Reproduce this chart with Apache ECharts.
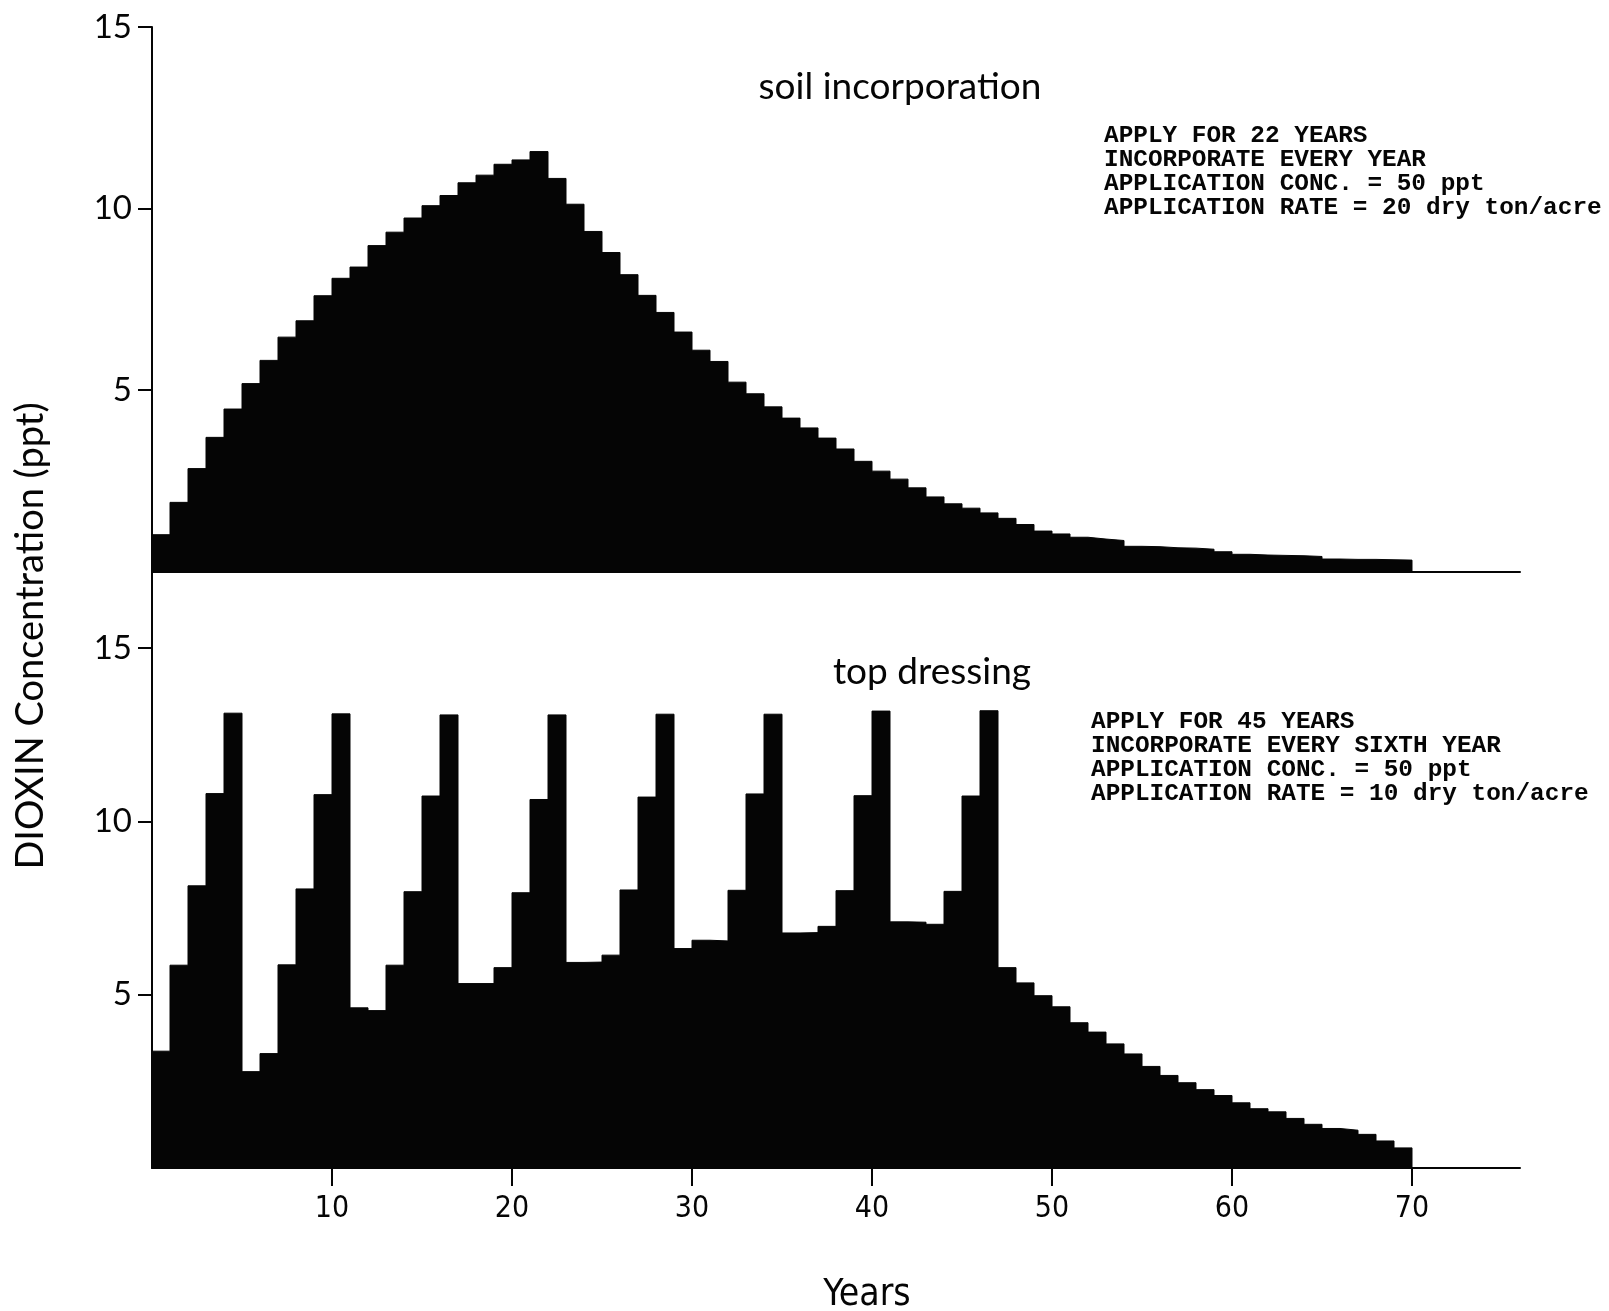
<!DOCTYPE html>
<html>
<head>
<meta charset="utf-8">
<title>Dioxin concentration in soil</title>
<script src="https://cdn.jsdelivr.net/npm/echarts@6/dist/echarts.min.js"></script>
<style>
  html, body { margin: 0; padding: 0; background: #ffffff; }
  #chart { width: 1609px; height: 1311px; }
</style>
</head>
<body>
<div id="chart"></div>
<script>
// Year axis ticks (bottom panel only) and concentration ticks (both panels)
const yearTicks = [10, 20, 30, 40, 50, 60, 70];
const concTicks = [5, 10, 15];

// Dioxin concentration (ppt) for each year 0..69, soil incorporation scenario
const soilIncorporation = [
  1.02, 1.91, 2.84, 3.70, 4.48, 5.18, 5.82, 6.46, 6.91, 7.60,
  8.08, 8.39, 8.98, 9.35, 9.74, 10.08, 10.36, 10.71, 10.92, 11.22,
  11.34, 11.57, 10.83, 10.12, 9.37, 8.79, 8.18, 7.61, 7.14, 6.60,
  6.10, 5.79, 5.22, 4.90, 4.54, 4.23, 3.96, 3.68, 3.38, 3.04,
  2.77, 2.55, 2.31, 2.06, 1.87, 1.75, 1.62, 1.47, 1.30, 1.12,
  1.04, 0.95, 0.90, 0.86, 0.70, 0.69, 0.66, 0.65, 0.62, 0.55,
  0.48, 0.46, 0.45, 0.44, 0.42, 0.35, 0.34, 0.34, 0.33, 0.32
];

// Dioxin concentration (ppt) for each year 0..69, top dressing scenario
const topDressing = [
  3.37, 5.85, 8.14, 10.80, 13.12, 2.78, 3.30, 5.86, 8.05, 10.77,
  13.10, 4.62, 4.54, 5.85, 7.97, 10.73, 13.07, 5.32, 5.32, 5.78,
  7.94, 10.63, 13.07, 5.93, 5.94, 6.14, 8.02, 10.70, 13.09, 6.33,
  6.57, 6.55, 8.01, 10.79, 13.09, 6.78, 6.79, 6.97, 8.00, 10.74,
  13.18, 7.10, 7.09, 7.03, 7.98, 10.73, 13.19, 5.78, 5.34, 4.97,
  4.65, 4.19, 3.92, 3.58, 3.29, 2.93, 2.67, 2.46, 2.26, 2.09,
  1.88, 1.71, 1.62, 1.43, 1.26, 1.14, 1.09, 0.97, 0.78, 0.58
];

const panelTitles = ['soil incorporation', 'top dressing'];
const notes = [
  ['APPLY FOR 22 YEARS', 'INCORPORATE EVERY YEAR', 'APPLICATION CONC. = 50 ppt', 'APPLICATION RATE = 20 dry ton/acre'],
  ['APPLY FOR 45 YEARS', 'INCORPORATE EVERY SIXTH YEAR', 'APPLICATION CONC. = 50 ppt', 'APPLICATION RATE = 10 dry ton/acre']
];
const yTitle = 'DIOXIN Concentration (ppt)';
const xTitle = 'Years';

// Each yearly value holds for one year: [year, value] pairs drawn as a stepped area
function yearlySteps(values) {
  const pts = values.map((v, i) => [i, v]);
  pts.push([values.length, values[values.length - 1]]);
  pts.push([values.length, 0]);
  return pts;
}

const INK = '#050505';
const labelFont = 'Lato, "Open Sans", sans-serif';
const condensedFont = '"DejaVu Sans Condensed", "Liberation Sans Narrow", sans-serif';
const monoFont = 'bold 24.4px "Liberation Mono", "DejaVu Sans Mono", monospace';

const chart = echarts.init(document.getElementById('chart'), null, { renderer: 'canvas' });

const commonX = {
  type: 'value', min: 0, max: 76,
  splitLine: { show: false },
  axisLine: { show: true, onZero: true, lineStyle: { color: INK, width: 2 } }
};

const option = {
  backgroundColor: '#ffffff',
  animation: false,
  grid: [
    { left: 152, right: 89, top: 27, height: 621 },
    { left: 152, right: 89, top: 648, height: 520 }
  ],
  xAxis: [
    Object.assign({}, commonX, {
      gridIndex: 0,
      axisTick: { show: false },
      axisLabel: { show: false }
    }),
    Object.assign({}, commonX, {
      gridIndex: 1,
      axisTick: { show: true, customValues: yearTicks, length: 18, lineStyle: { color: INK, width: 2 } },
      axisLabel: { show: true, customValues: yearTicks, margin: 26, color: INK, fontSize: 30, fontFamily: condensedFont }
    })
  ],
  yAxis: [
    {
      type: 'value', gridIndex: 0, min: -2.1, max: 15,
      splitLine: { show: false },
      axisLine: { show: true, onZero: false, lineStyle: { color: INK, width: 2 } },
      axisTick: { show: true, customValues: concTicks, length: 14, lineStyle: { color: INK, width: 2 } },
      axisLabel: { show: true, customValues: concTicks, margin: 20, color: INK, fontSize: 33, fontFamily: labelFont }
    },
    {
      type: 'value', gridIndex: 1, min: 0, max: 15, interval: 5,
      splitLine: { show: false },
      axisLine: { show: true, onZero: false, lineStyle: { color: INK, width: 2 } },
      axisTick: { show: true, customValues: concTicks, length: 14, lineStyle: { color: INK, width: 2 } },
      axisLabel: { show: true, customValues: concTicks, margin: 20, color: INK, fontSize: 33, fontFamily: labelFont }
    }
  ],
  series: [
    {
      name: panelTitles[0], type: 'line', xAxisIndex: 0, yAxisIndex: 0,
      step: 'end', symbol: 'none', silent: true,
      data: yearlySteps(soilIncorporation),
      lineStyle: { color: INK, width: 1 },
      areaStyle: { color: INK, opacity: 1, origin: 0 }
    },
    {
      name: panelTitles[1], type: 'line', xAxisIndex: 1, yAxisIndex: 1,
      step: 'end', symbol: 'none', silent: true,
      data: yearlySteps(topDressing),
      lineStyle: { color: INK, width: 1 },
      areaStyle: { color: INK, opacity: 1, origin: 0 }
    }
  ],
  graphic: [
    {
      type: 'text', x: 31, y: 636, rotation: Math.PI / 2,
      style: { text: yTitle, fill: INK, font: '38px ' + labelFont, align: 'center', verticalAlign: 'middle' }
    },
    {
      type: 'text', x: 900, y: 87,
      style: { text: panelTitles[0], fill: INK, font: '37px ' + labelFont, align: 'center', verticalAlign: 'middle' }
    },
    {
      type: 'text', x: 932, y: 672,
      style: { text: panelTitles[1], fill: INK, font: '37px ' + labelFont, align: 'center', verticalAlign: 'middle' }
    },
    {
      type: 'text', x: 1104, y: 124,
      style: { text: notes[0].join('\n'), fill: INK, font: monoFont, lineHeight: 24, align: 'left', verticalAlign: 'top' }
    },
    {
      type: 'text', x: 1091, y: 710,
      style: { text: notes[1].join('\n'), fill: INK, font: monoFont, lineHeight: 24, align: 'left', verticalAlign: 'top' }
    },
    {
      type: 'text', x: 867, y: 1295,
      style: { text: xTitle, fill: INK, font: '37px ' + condensedFont, align: 'center', verticalAlign: 'middle' }
    }
  ]
};

chart.setOption(option);
</script>
</body>
</html>
